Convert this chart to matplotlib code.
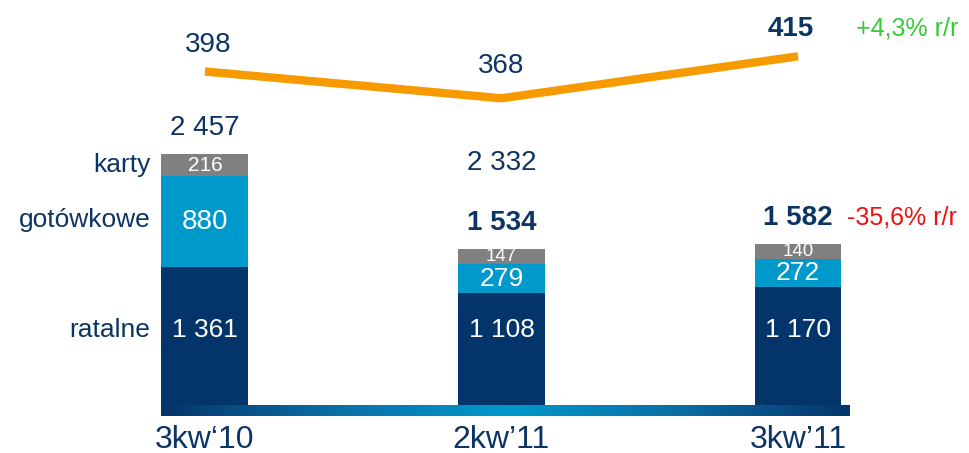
import numpy as np
import matplotlib
matplotlib.use('Agg')
import matplotlib.pyplot as plt
from matplotlib.colors import LinearSegmentedColormap

# dane
kwartaly = ['3kw\u201810', '2kw\u201911', '3kw\u201911']
ratalne = [1361, 1108, 1170]
gotowkowe = [880, 279, 272]
karty = [216, 147, 140]
sumy = ['2 457', '1 534', '1 582']
linia = [398, 368, 415]
etykiety_linii = ['398', '368', '415']
etykiety_ratalne = ['1 361', '1 108', '1 170']

GRANAT = '#04356a'
NIEBIESKI = '#0099cc'
SZARY = '#808080'
POMARANCZ = '#f79a00'
TEKST = '#0c3464'

plt.rcParams['font.family'] = ['Liberation Sans', 'DejaVu Sans']

fig = plt.figure(figsize=(9.7, 4.53), dpi=100)
ax = fig.add_axes([0, 0, 1, 1])
XL = (-0.691, 2.58)
YL = (-447, 3953)
ax.axis('off')

x = np.arange(len(kwartaly))
w = 0.293
ax.bar(x, ratalne, w, color=GRANAT, zorder=2)
ax.bar(x, gotowkowe, w, bottom=ratalne, color=NIEBIESKI, zorder=2)
dol_karty = np.array(ratalne) + np.array(gotowkowe)
ax.bar(x, karty, w, bottom=dol_karty, color=SZARY, zorder=2)
razem = dol_karty + np.array(karty)

# wspolna wysokosc etykiet "ratalne"
y_ratalne = 750

# etykiety segmentow
for i in range(len(x)):
    ax.text(x[i], y_ratalne, etykiety_ratalne[i], ha='center', va='center',
            color='white', fontsize=19)
    fs = 20 if gotowkowe[i] > 500 else 19
    ax.text(x[i], ratalne[i] + gotowkowe[i] / 2, str(gotowkowe[i]), ha='center',
            va='center', color='white', fontsize=fs)
    fs = 15 if karty[i] > 200 else 13.5
    ax.text(x[i], dol_karty[i] + karty[i] / 2, str(karty[i]), ha='center',
            va='center', color='white', fontsize=fs)
    ax.annotate(sumy[i], (x[i], razem[i]), xytext=(0, 19), textcoords='offset points',
                ha='center', va='center', color=TEKST, fontsize=20,
                fontweight='normal' if i == 0 else 'bold')

ax.annotate('2 332', (x[1], razem[1]), xytext=(0, 62), textcoords='offset points',
            ha='center', va='center', color=TEKST, fontsize=20)

# opisy po lewej
lewy = x[0] - w / 2
ax.annotate('karty', (lewy, dol_karty[0] + karty[0] / 2), xytext=(-8, 0),
            textcoords='offset points', ha='right', va='center', color=TEKST, fontsize=19)
ax.annotate('gotówkowe', (lewy, ratalne[0] + gotowkowe[0] * 0.52), xytext=(-8, 0),
            textcoords='offset points', ha='right', va='center', color=TEKST, fontsize=19)
ax.annotate('ratalne', (lewy, y_ratalne), xytext=(-8, 0),
            textcoords='offset points', ha='right', va='center', color=TEKST, fontsize=19)

# pasek z gradientem u podstawy
cmap = LinearSegmentedColormap.from_list('pasek', [GRANAT, '#0a6ea6', NIEBIESKI, '#0a6ea6', GRANAT])
grad = np.linspace(0, 1, 256).reshape(1, -1)
ax.imshow(grad, cmap=cmap, aspect='auto',
          extent=(x[0] - w / 2, x[-1] + w / 2 + 0.03, -90, 10), zorder=3)
ax.set_xlim(*XL)
ax.set_ylim(*YL)

# kategorie
for i, k in enumerate(kwartaly):
    ax.text(x[i], -320, k, ha='center', va='center', color=TEKST, fontsize=23)

ax.annotate('-35,6% r/r', (x[2] + w / 2, razem[2]), xytext=(4, 19), textcoords='offset points',
            ha='left', va='center', color='#ee1111', fontsize=18)

# linia na drugiej osi
ax2 = fig.add_axes([0, 0, 1, 1], sharex=ax)
ax2.set_ylim(-29, 478)
ax2.axis('off')
ax2.patch.set_alpha(0)
ax2.plot(x, linia, color=POMARANCZ, lw=6, solid_capstyle='butt')
przes = [(2, 19), (0, 23), (-5, 20)]
for i in range(len(x)):
    ax2.annotate(etykiety_linii[i], (x[i], linia[i]), xytext=przes[i], textcoords='offset points',
                 ha='center', va='center', color=TEKST, fontsize=20,
                 fontweight='bold' if i == 2 else 'normal')
ax2.annotate('+4,3% r/r', (x[2], linia[2]), xytext=(42, 20), textcoords='offset points',
             ha='left', va='center', color='#33cc33', fontsize=18)

fig.savefig('out.png', dpi=100)
